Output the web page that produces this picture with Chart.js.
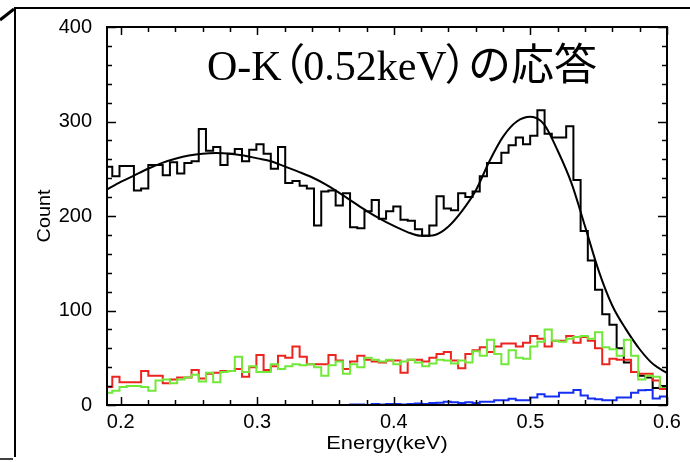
<!DOCTYPE html>
<html>
<head>
<meta charset="utf-8">
<script src="https://cdn.jsdelivr.net/npm/chart.js@4/dist/chart.umd.min.js"></script>
<style>
  html, body { margin: 0; padding: 0; background: #fff; }
  #wrap { width: 690px; height: 462px; position: relative; }
</style>
</head>
<body>
<div id="wrap"><canvas id="c" width="690" height="462"></canvas></div>
<script>
// Spectrum binning (keV): left edge of the first channel and channel width
const binStart = 0.1886;
const binWidth = 0.005275;

// Measured spectrum, counts per channel
const totalCounts = [
  252, 242, 253, 253, 227, 229, 254, 254, 243, 257,
  245, 256, 258, 292, 269, 273, 254, 266, 271, 258,
  270, 276, 266, 250, 273, 235, 237, 232, 229, 190,
  226, 227, 211, 224, 188, 187, 205, 217, 197, 205,
  210, 196, 195, 186, 179, 190, 221, 208, 206, 224,
  220, 226, 242, 256, 256, 267, 275, 283, 276, 285,
  312, 287, 283, 283, 295, 238, 184, 153, 122, 96,
  85, 60, 45, 35, 31, 29, 18, 20
];

// Component spectra, counts per channel
const redCounts = [
  19, 30, 24, 24, 24, 36, 31, 31, 23, 27,
  29, 29, 37, 28, 33, 34, 36, 36, 38, 30,
  40, 53, 37, 41, 52, 50, 62, 51, 43, 43,
  43, 53, 47, 38, 46, 52, 48, 46, 45, 47,
  47, 34, 48, 48, 46, 50, 54, 56, 47, 39,
  54, 58, 61, 56, 62, 65, 65, 62, 66, 73,
  70, 62, 68, 68, 73, 66, 72, 68, 60, 43,
  49, 48, 48, 35, 33, 33, 26, 17
];

const greenCounts = [
  13, 15, 19, 20, 20, 19, 15, 26, 27, 23,
  27, 29, 32, 25, 34, 24, 35, 36, 51, 35,
  41, 35, 35, 43, 38, 41, 43, 42, 43, 40,
  31, 42, 46, 33, 43, 40, 50, 48, 46, 48,
  43, 46, 48, 45, 41, 44, 48, 47, 44, 47,
  45, 57, 52, 69, 54, 43, 58, 50, 49, 62,
  67, 80, 68, 67, 70, 72, 73, 70, 77, 61,
  59, 52, 69, 52, 27, 31, 30, 19
];

const blueCounts = [
  0, 0, 0, 0, 0, 0, 0, 0, 0, 0,
  0, 0, 0, 0, 0, 0, 0, 0, 0, 0,
  0, 0, 0, 0, 0, 0, 0, 0, 0, 0,
  0, 0, 0, 0, 0.5, 0.5, 0, 1, 0.5, 1,
  1, 0.5, 1, 1.5, 1, 2, 2.5, 3.5, 3, 2,
  3, 2, 3.5, 3.5, 5, 5, 6.5, 5, 5, 8,
  11.5, 9, 9, 13, 13, 16, 10, 7, 6, 5,
  5, 8, 8, 13, 15.5, 16, 7, 9
];

// Fitted response model
const modelEnergy = [
  0.19, 0.20, 0.21, 0.22, 0.23, 0.24, 0.25, 0.26, 0.27, 0.28,
  0.29, 0.30, 0.31, 0.32, 0.33, 0.34, 0.35, 0.36, 0.37, 0.38,
  0.39, 0.40, 0.41, 0.42, 0.43, 0.44, 0.45, 0.46, 0.47, 0.48,
  0.49, 0.50, 0.51, 0.52, 0.53, 0.54, 0.55, 0.56, 0.57, 0.58,
  0.59, 0.60
];
const modelCounts = [
  228, 236, 243, 250, 256, 260.5, 264, 266, 266.6, 266,
  264, 261, 258, 252.5, 247, 241, 233.5, 224.5, 215, 205.5,
  197, 189.5, 183, 179, 180, 189, 205.5, 227, 258, 284,
  300, 305, 297, 269, 235, 189, 142, 105, 80, 59,
  43, 34
];

const xTickValues = [0.2, 0.3, 0.4, 0.5, 0.6];
const yTickValues = [0, 100, 200, 300, 400];

const titleText = 'O-K（0.52keV）の応答';
const xAxisTitle = 'Energy(keV)';
const yAxisTitle = 'Count';

// Channel counts -> step points at channel edges
function histPoints(counts) {
  const pts = counts.map((v, i) => ({ x: binStart + i * binWidth, y: v }));
  pts.push({ x: binStart + counts.length * binWidth, y: counts[counts.length - 1] });
  return pts;
}

const SANS = '"Liberation Sans", Arial, Helvetica, sans-serif';
const SERIF = '"Liberation Serif", "Times New Roman", serif';
const CJK = '"Noto Sans CJK JP", sans-serif';

// Title: Latin in serif, kana/kanji in CJK face, full-width brackets set half width
function drawTitle(ctx, text, x, y) {
  let cx = x;
  const latinSize = 42, cjkSize = 43;
  for (const ch of text) {
    if (ch === '（' || ch === '）') {
      ctx.font = cjkSize + 'px ' + CJK;
      const half = cjkSize * 0.5;
      if (ch === '（') {
        ctx.fillText(ch, cx - half + 2, y);
      } else {
        ctx.fillText(ch, cx - 2, y);
      }
      cx += half;
    } else if (/[\u3040-\u30ff\u4e00-\u9fff]/.test(ch)) {
      ctx.font = cjkSize + 'px ' + CJK;
      ctx.fillText(ch, cx, y);
      cx += ctx.measureText(ch).width;
    } else {
      ctx.font = latinSize + 'px ' + SERIF;
      ctx.fillText(ch, cx, y);
      cx += ctx.measureText(ch).width;
    }
  }
}

const decor = {
  id: 'decor',
  beforeDraw(chart) {
    const ctx = chart.ctx;
    ctx.save();
    ctx.fillStyle = '#fff';
    ctx.fillRect(0, 0, chart.width, chart.height);
    // outer sheet edge
    ctx.strokeStyle = '#000';
    ctx.lineWidth = 2;
    ctx.beginPath();
    ctx.moveTo(690, 8); ctx.lineTo(15, 8); ctx.lineTo(15, 457);
    ctx.stroke();
    ctx.lineWidth = 3;
    ctx.beginPath();
    ctx.moveTo(0, 20); ctx.lineTo(14, 9);
    ctx.stroke();
    ctx.lineWidth = 1.5;
    ctx.beginPath();
    ctx.moveTo(0, 459); ctx.lineTo(13, 459);
    ctx.stroke();
    ctx.restore();
  },
  afterDatasetsDraw(chart) {
    const { ctx, chartArea: a, scales: { x, y } } = chart;
    ctx.save();
    ctx.strokeStyle = '#000';
    // plot frame
    ctx.lineWidth = 2;
    ctx.strokeRect(a.left, a.top, a.right - a.left, a.bottom - a.top);
    // inward ticks on all four sides
    ctx.lineWidth = 1.5;
    ctx.beginPath();
    for (let i = 0; i <= 20; i++) {
      const px = Math.round(x.getPixelForValue(0.2 + i * 0.02)) + 0.5;
      const len = i % 5 === 0 ? 8 : 5;
      ctx.moveTo(px, a.bottom); ctx.lineTo(px, a.bottom - len);
      ctx.moveTo(px, a.top); ctx.lineTo(px, a.top + len);
    }
    for (let i = 0; i <= 20; i++) {
      const py = Math.round(y.getPixelForValue(i * 20)) + 0.5;
      const len = i % 5 === 0 ? 9 : 5;
      ctx.moveTo(a.left, py); ctx.lineTo(a.left + len, py);
      ctx.moveTo(a.right, py); ctx.lineTo(a.right - len, py);
    }
    ctx.stroke();

    // in-plot title
    ctx.fillStyle = '#000';
    ctx.textAlign = 'left';
    ctx.textBaseline = 'alphabetic';
    drawTitle(ctx, titleText, 207, 80);

    // axis titles (wide-set sans)
    ctx.font = '19px ' + SANS;
    ctx.textAlign = 'center';
    ctx.textBaseline = 'middle';
    ctx.save();
    ctx.translate((a.left + a.right) / 2, a.bottom + 39);
    ctx.scale(1.15, 1);
    ctx.fillText(xAxisTitle, 0, 0);
    ctx.restore();

    ctx.font = '18px ' + SANS;
    ctx.save();
    ctx.translate(45, (a.top + a.bottom) / 2);
    ctx.rotate(-Math.PI / 2);
    ctx.scale(1.1, 1);
    ctx.fillText(yAxisTitle, 0, 0);
    ctx.restore();
    ctx.restore();
  }
};

const stepStyle = (color) => ({
  borderColor: color,
  borderWidth: 2,
  pointRadius: 0,
  fill: false,
  stepped: 'before'
});

new Chart(document.getElementById('c'), {
  type: 'line',
  data: {
    datasets: [
      { label: 'blue', data: histPoints(blueCounts), ...stepStyle('#1530f0') },
      { label: 'green', data: histPoints(greenCounts), ...stepStyle('#72e838') },
      { label: 'red', data: histPoints(redCounts), ...stepStyle('#ec2420') },
      {
        label: 'model',
        data: modelEnergy.map((e, i) => ({ x: e, y: modelCounts[i] })),
        borderColor: '#000',
        borderWidth: 2,
        pointRadius: 0,
        fill: false,
        cubicInterpolationMode: 'monotone'
      },
      { label: 'total', data: histPoints(totalCounts), ...stepStyle('#000') }
    ]
  },
  options: {
    responsive: false,
    animation: false,
    devicePixelRatio: 1,
    layout: { padding: { left: 0, right: 23, top: 21, bottom: 0 } },
    plugins: {
      legend: { display: false },
      tooltip: { enabled: false },
      title: { display: false }
    },
    scales: {
      x: {
        type: 'linear',
        min: 0.19,
        max: 0.6,
        afterBuildTicks: (s) => { s.ticks = xTickValues.map(v => ({ value: v })); },
        afterFit: (s) => { s.height = 57; },
        grid: { display: false, drawTicks: false },
        border: { display: false },
        ticks: {
          color: '#000',
          font: { family: SANS, size: 20 },
          padding: 5,
          maxRotation: 0,
          callback: (v) => v.toFixed(1)
        }
      },
      y: {
        type: 'linear',
        min: 0,
        max: 400,
        afterBuildTicks: (s) => { s.ticks = yTickValues.map(v => ({ value: v })); },
        afterFit: (s) => { s.width = 107; },
        grid: { display: false, drawTicks: false },
        border: { display: false },
        ticks: {
          color: '#000',
          font: { family: SANS, size: 20 },
          padding: 15
        }
      }
    }
  },
  plugins: [decor]
});
</script>
</body>
</html>
